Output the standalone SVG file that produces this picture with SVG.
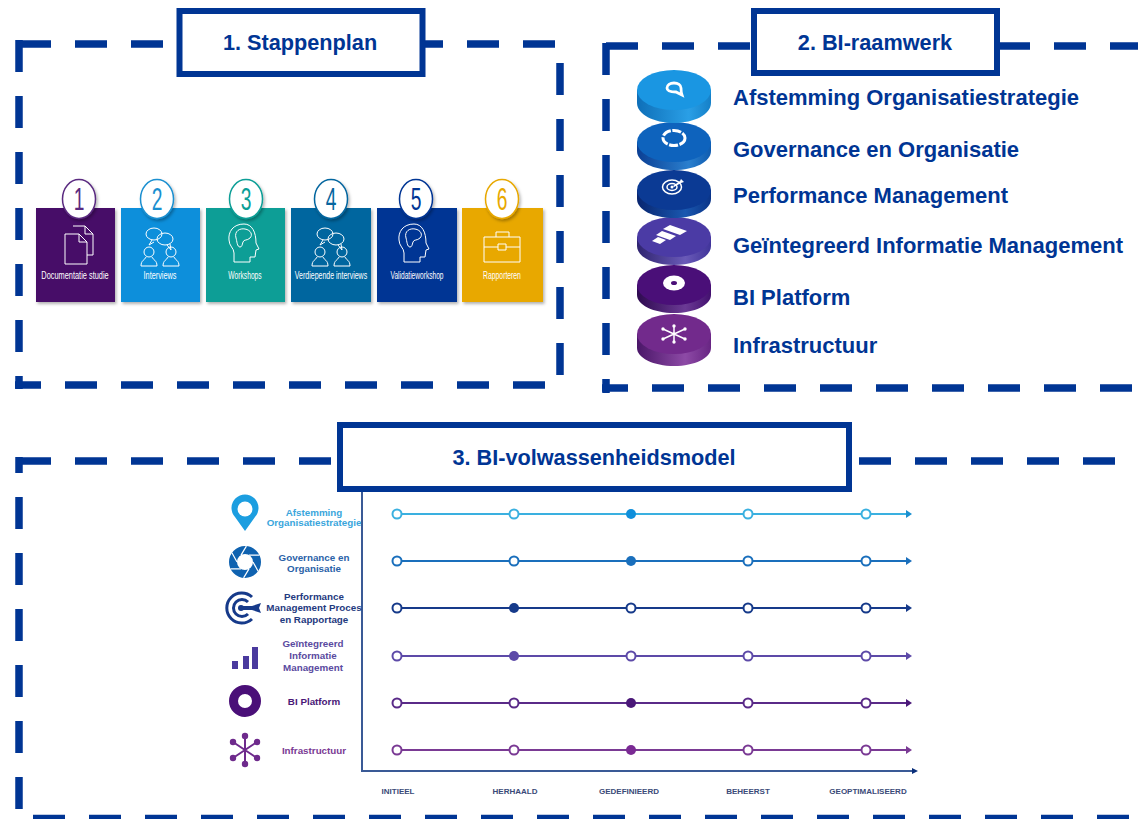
<svg xmlns="http://www.w3.org/2000/svg" width="1138" height="819" viewBox="0 0 1138 819">
<style>
text{font-family:"Liberation Sans",Arial,sans-serif}
.dash{fill:none;stroke:#003594;stroke-width:7.500;stroke-dasharray:32 24}
.tbox{fill:#fff;stroke:#003594;stroke-width:6}
.ttl{font-size:21.700px;font-weight:700;fill:#003594;text-anchor:middle}
.lbl{font-size:22px;font-weight:700;fill:#003594}
.card{filter:url(#sh)}
.num{fill:#fff;stroke-width:1.500;filter:url(#sh)}
.digit{font-size:31px;text-anchor:middle}
.clab{font-size:10px;fill:#fff;text-anchor:middle}
.ic{fill:none;stroke:#fff;stroke-width:1}
.rl{font-size:9.800px;font-weight:700;text-anchor:middle}
.ax{font-size:8px;font-weight:700;fill:#3a4a78;text-anchor:middle}
.l{fill:none;stroke-width:2}
.n{fill:#fff;stroke-width:2}
</style>
<defs>
<filter id="sh" x="-10%" y="-10%" width="125%" height="125%"><feDropShadow dx="1.500" dy="2" stdDeviation="1.500" flood-color="#000" flood-opacity=".3"/></filter>
<linearGradient id="g1"><stop offset="0" stop-color="#0e6fb8"/><stop offset=".7" stop-color="#2a9fe6"/><stop offset="1" stop-color="#1580c8"/></linearGradient>
<linearGradient id="g2"><stop offset="0" stop-color="#0b3f94"/><stop offset=".7" stop-color="#2a7fce"/><stop offset="1" stop-color="#0f5cb0"/></linearGradient>
<linearGradient id="g3"><stop offset="0" stop-color="#08256f"/><stop offset=".65" stop-color="#1a58b0"/><stop offset="1" stop-color="#0a3488"/></linearGradient>
<linearGradient id="g4"><stop offset="0" stop-color="#2f2470"/><stop offset=".65" stop-color="#6a5ab8"/><stop offset="1" stop-color="#40349a"/></linearGradient>
<linearGradient id="g5"><stop offset="0" stop-color="#2e0a50"/><stop offset=".65" stop-color="#6b3a95"/><stop offset="1" stop-color="#43106f"/></linearGradient>
<linearGradient id="g6"><stop offset="0" stop-color="#4a1668"/><stop offset=".65" stop-color="#8d4aa6"/><stop offset="1" stop-color="#682583"/></linearGradient>
<g id="pair"><circle cx="-11" cy="8" r="5"/><path d="M-19 22c0-6 4-6 5-9M-3 22c0-6-4-6-5-9M-19 22h16"/><circle cx="11" cy="8" r="5"/><path d="M3 22c0-6 4-6 5-9M19 22c0-6-4-6-5-9M3 22h16"/><ellipse cx="-6" cy="-10" rx="8" ry="6"/><ellipse cx="5" cy="-5" rx="8" ry="6"/><path d="M-8-4l-3 5 5-3M7 1l4 5-1-6"/></g>
<g id="head"><path d="M-2-20c-11 0-16 8-15 16 0 6 5 8 5 13v9h16v-5h5l1-7 3-1-3-6c0-11-4-19-12-19z"/><path d="M-10-6c-2-7 4-10 9-9 6 1 8 6 5 9-3 3-6 1-7 4-1 3-1 5-3 5-3 0-3-6-4-9z"/></g>
</defs>
<g id="connectors">
<path class="dash" d="M19 44H163M411 44H555M19 40V389M560 63V376M15 385H41M65 385H545"/>
<path class="dash" d="M606 46H750M998 46H1138M606 43V393M602 388H628M652 388H1132"/>
<path class="dash" d="M19 461H331M859 461H1115M19 457V473M19 497V809M33 818.500H1138"/>
</g>
<g id="frame1-title"><rect class="tbox" x="179.500" y="11" width="243" height="63"/><text class="ttl" x="300" y="50">1. Stappenplan</text></g>
<g id="frame2-title"><rect class="tbox" x="754" y="11" width="243" height="62"/><text class="ttl" x="875" y="50">2. BI-raamwerk</text></g>
<g id="frame3-title"><rect class="tbox" x="340" y="425" width="509" height="64"/><text class="ttl" x="594" y="465">3. BI-volwassenheidsmodel</text></g>

<g id="step1"><rect class="card" x="36" y="208" width="79" height="94" fill="#470a68"/><ellipse class="num" cx="79" cy="199" rx="16.500" ry="19.500" stroke="#5a2a80"/><text class="digit" transform="translate(79 210) scale(.62 1)" fill="#5a2a80">1</text>
<path class="ic" d="M73 226h12l8 8v21H87M65 234h14l8 8v22H65zM79 234v8h8M85 226v8h8"/><text class="clab" transform="translate(75 279) scale(.74 1)">Documentatie studie</text></g>
<g id="step2"><rect class="card" x="121" y="208" width="79" height="94" fill="#0f8fdb"/><ellipse class="num" cx="157" cy="199" rx="16.500" ry="19.500" stroke="#1a8fd0"/><text class="digit" transform="translate(157 210) scale(.62 1)" fill="#1a8fd0">2</text>
<use href="#pair" class="ic" x="160" y="244"/><text class="clab" transform="translate(160 279) scale(.73 1)">Interviews</text></g>
<g id="step3"><rect class="card" x="206" y="208" width="79" height="94" fill="#0a9e96"/><ellipse class="num" cx="246" cy="199" rx="16.500" ry="19.500" stroke="#0a9e96"/><text class="digit" transform="translate(246 210) scale(.62 1)" fill="#0a9e96">3</text>
<use href="#head" class="ic" x="246" y="244"/><text class="clab" transform="translate(245 279) scale(.67 1)">Workshops</text></g>
<g id="step4"><rect class="card" x="291" y="208" width="80" height="94" fill="#06669f"/><ellipse class="num" cx="331" cy="199" rx="16.500" ry="19.500" stroke="#06669f"/><text class="digit" transform="translate(331 210) scale(.62 1)" fill="#06669f">4</text>
<use href="#pair" class="ic" x="331" y="244"/><text class="clab" transform="translate(331 279) scale(.7 1)">Verdiepende interviews</text></g>
<g id="step5"><rect class="card" x="377" y="208" width="80" height="94" fill="#003594"/><ellipse class="num" cx="416" cy="199" rx="16.500" ry="19.500" stroke="#003594"/><text class="digit" transform="translate(416 210) scale(.62 1)" fill="#003594">5</text>
<use href="#head" class="ic" x="416" y="244"/><text class="clab" transform="translate(417 279) scale(.66 1)">Validatieworkshop</text></g>
<g id="step6"><rect class="card" x="462" y="208" width="81" height="94" fill="#e8a800"/><ellipse class="num" cx="502" cy="199" rx="16.500" ry="19.500" stroke="#e8a800"/><text class="digit" transform="translate(502 210) scale(.62 1)" fill="#e8a800">6</text>
<path class="ic" d="M484 237h36v25h-36zM484 247h14M506 247h14M498 244h8v6h-8zM496 237v-5h13v5"/><text class="clab" transform="translate(502 279) scale(.68 1)">Rapporteren</text></g>

<g id="disk6"><path d="M637 334v14c0 10 16.500 18 37 18s37-8 37-18v-14z" fill="url(#g6)"/><ellipse cx="674" cy="334" rx="37" ry="20" fill="#722a8c"/><path d="M674 327v14M663 329l22 10M685 329l-22 10" stroke="#fff" stroke-width="1.500"/><g fill="#fff"><circle cx="674" cy="326" r="1.700"/><circle cx="674" cy="342" r="1.700"/><circle cx="663" cy="329" r="1.700"/><circle cx="685" cy="329" r="1.700"/><circle cx="663" cy="339" r="1.700"/><circle cx="685" cy="339" r="1.700"/></g><text class="lbl" x="733" y="353">Infrastructuur</text></g>
<g id="disk5"><path d="M637 285v10c0 10 16.500 18 37 18s37-8 37-18v-10z" fill="url(#g5)"/><ellipse cx="674" cy="285" rx="37" ry="20" fill="#4a0f78"/><ellipse cx="674" cy="283" rx="11" ry="7.500" fill="#fff"/><ellipse cx="674" cy="283" rx="3" ry="2" fill="#4a0f78"/><text class="lbl" x="733" y="305">BI Platform</text></g>
<g id="disk4"><path d="M637 237v9c0 11 16.500 19 37 19s37-8 37-19v-9z" fill="url(#g4)"/><ellipse cx="674" cy="237" rx="37" ry="20" fill="#4b3ba5"/><path d="M670 225l17 6-7 4-17-6zM662 231l14 5-6 4-14-5zM665 236l0 0M658 237l8 3-6 4-8-3z" fill="#fff"/><text class="lbl" x="733" y="253">Geïntegreerd Informatie Management</text></g>
<g id="disk3"><path d="M637 190v9c0 11 16.500 19 37 19s37-8 37-19v-9z" fill="url(#g3)"/><ellipse cx="674" cy="190" rx="37" ry="20" fill="#0b3a94"/><g fill="none" stroke="#fff"><ellipse cx="672" cy="187" rx="9.500" ry="7" stroke-width="1.500"/><ellipse cx="672" cy="187" rx="5" ry="3.500" stroke-width="1.500"/></g><circle cx="672" cy="187" r="1.500" fill="#fff"/><path d="M673 186l7-5 1-2 2 2 1 1-3 1-7 4z" fill="#fff"/><text class="lbl" x="733" y="203">Performance Management</text></g>
<g id="disk2"><path d="M637 142v9c0 11 16.500 19 37 19s37-8 37-19v-9z" fill="url(#g2)"/><ellipse cx="674" cy="142" rx="37" ry="20" fill="#0e63bd"/><ellipse cx="687" cy="138" rx="11" ry="7.500" fill="none" stroke="#fff" stroke-width="3" stroke-dasharray="9 1.500" transform="translate(-13 0)"/><text class="lbl" x="733" y="157">Governance en Organisatie</text></g>
<g id="disk1"><path d="M637 90v13c0 11 16.500 20 37 20s37-9 37-20v-13z" fill="url(#g1)"/><ellipse cx="674" cy="90" rx="37" ry="20" fill="#1a96e2"/><path d="M682 95l-6-3c-5 0-9-1-9-4 0-3 3-5 7-5s7 2 7 5c0 2 0 4 1 7z" fill="none" stroke="#fff" stroke-width="2.800"/><text class="lbl" x="733" y="105">Afstemming Organisatiestrategie</text></g>

<g id="axes" fill="none" stroke="#3a5a96" stroke-width="2"><path d="M362 492V771H912"/><path d="M912 768l6 3-6 3z" fill="#0a2f7a" stroke="none"/></g>

<g id="row1" stroke="#3ab0e0"><path class="l" d="M397 514H906"/><path d="M906 510l6 4-6 4z" fill="#1a8fd0" stroke="none"/><circle class="n" cx="397" cy="514" r="4.500"/><circle class="n" cx="514" cy="514" r="4.500"/><circle cx="631" cy="514" r="5" fill="#0f8fdb" stroke="none"/><circle class="n" cx="748" cy="514" r="4.500"/><circle class="n" cx="866" cy="514" r="4.500"/>
<path d="M245 531l-10-14a13.500 13.500 0 1 1 20 0z" fill="#1c9ee0" stroke="none"/><circle cx="245" cy="509" r="7.500" fill="#fff" stroke="none"/><text class="rl" fill="#3aa6dc" stroke="none" x="314" y="516">Afstemming</text><text class="rl" fill="#3aa6dc" stroke="none" x="314" y="526">Organisatiestrategie</text></g>
<g id="row2" stroke="#1a6fbc"><path class="l" d="M397 561H906"/><path d="M906 557l6 4-6 4z" fill="#1a6fbc" stroke="none"/><circle class="n" cx="397" cy="561" r="4.500"/><circle class="n" cx="514" cy="561" r="4.500"/><circle cx="631" cy="561" r="5" fill="#1a6fbc" stroke="none"/><circle class="n" cx="748" cy="561" r="4.500"/><circle class="n" cx="866" cy="561" r="4.500"/>
<circle cx="245" cy="562" r="12" fill="none" stroke="#0f62b0" stroke-width="8"/><path d="M253 562L258.100 571.200M249 568.900L243.600 577.900M241 568.900L230.500 568.800M237 562L231.900 552.800M241 555.100L246.400 546.100M249 555.100L259.500 555.200" fill="none" stroke="#fff" stroke-width="1.200"/><text class="rl" fill="#2a62a8" stroke="none" x="314" y="561">Governance en</text><text class="rl" fill="#2a62a8" stroke="none" x="314" y="572">Organisatie</text></g>
<g id="row3" stroke="#163a8a"><path class="l" d="M397 608H906"/><path d="M906 604l6 4-6 4z" fill="#163a8a" stroke="none"/><circle class="n" cx="397" cy="608" r="4.500"/><circle cx="514" cy="608" r="5" fill="#163a8a" stroke="none"/><circle class="n" cx="631" cy="608" r="4.500"/><circle class="n" cx="748" cy="608" r="4.500"/><circle class="n" cx="866" cy="608" r="4.500"/>
<g fill="none" stroke-width="3"><path d="M252 597a15 15 0 1 0 0 22"/><path d="M248 602a8.500 8.500 0 1 0 0 12"/></g><circle cx="241" cy="608" r="3" fill="#163a8a" stroke="none"/><path d="M242 606h10l9-3-2 5 2 5-9-3h-10z" fill="#163a8a" stroke="none"/><text class="rl" fill="#1f3a80" stroke="none" x="314" y="600">Performance</text><text class="rl" fill="#1f3a80" stroke="none" x="314" y="611">Management Proces</text><text class="rl" fill="#1f3a80" stroke="none" x="314" y="623">en Rapportage</text></g>
<g id="row4" stroke="#5d4aa8"><path class="l" d="M397 656H906"/><path d="M906 652l6 4-6 4z" fill="#5d4aa8" stroke="none"/><circle class="n" cx="397" cy="656" r="4.500"/><circle cx="514" cy="656" r="5" fill="#5d4aa8" stroke="none"/><circle class="n" cx="631" cy="656" r="4.500"/><circle class="n" cx="748" cy="656" r="4.500"/><circle class="n" cx="866" cy="656" r="4.500"/>
<path d="M232 661h6v8h-6zM243 656h6v13h-6zM252 647h6v22h-6z" fill="#4a3a9e" stroke="none"/><text class="rl" fill="#5a4aa0" stroke="none" x="313" y="647">Geïntegreerd</text><text class="rl" fill="#5a4aa0" stroke="none" x="313" y="659">Informatie</text><text class="rl" fill="#5a4aa0" stroke="none" x="313" y="671">Management</text></g>
<g id="row5" stroke="#5a2a88"><path class="l" d="M397 703H906"/><path d="M906 699l6 4-6 4z" fill="#4a1878" stroke="none"/><circle class="n" cx="397" cy="703" r="4.500"/><circle class="n" cx="514" cy="703" r="4.500"/><circle cx="631" cy="703" r="5" fill="#4a1878" stroke="none"/><circle class="n" cx="748" cy="703" r="4.500"/><circle class="n" cx="866" cy="703" r="4.500"/>
<circle cx="245" cy="701" r="11.500" fill="none" stroke="#4a0f78" stroke-width="9"/><text class="rl" fill="#4a1878" stroke="none" x="314" y="705">BI Platform</text></g>
<g id="row6" stroke="#7a3a94"><path class="l" d="M397 750H906"/><path d="M906 746l6 4-6 4z" fill="#7a3a94" stroke="none"/><circle class="n" cx="397" cy="750" r="4.500"/><circle class="n" cx="514" cy="750" r="4.500"/><circle cx="631" cy="750" r="5" fill="#7a2a94" stroke="none"/><circle class="n" cx="748" cy="750" r="4.500"/><circle class="n" cx="866" cy="750" r="4.500"/>
<path d="M245 736v28M233 742l24 16M257 742l-24 16" fill="none" stroke="#6e2a8c" stroke-width="2"/><g fill="#6e2a8c" stroke="none"><circle cx="245" cy="736" r="3.200"/><circle cx="245" cy="764" r="3.200"/><circle cx="233" cy="742" r="3.200"/><circle cx="257" cy="742" r="3.200"/><circle cx="233" cy="758" r="3.200"/><circle cx="257" cy="758" r="3.200"/></g><text class="rl" fill="#7a3a94" stroke="none" x="314" y="754">Infrastructuur</text></g>
<g id="axis-labels"><text class="ax" x="398" y="794">INITIEEL</text><text class="ax" x="515" y="794">HERHAALD</text><text class="ax" x="629" y="794">GEDEFINIEERD</text><text class="ax" x="748" y="794">BEHEERST</text><text class="ax" x="868" y="794">GEOPTIMALISEERD</text></g>
</svg>
